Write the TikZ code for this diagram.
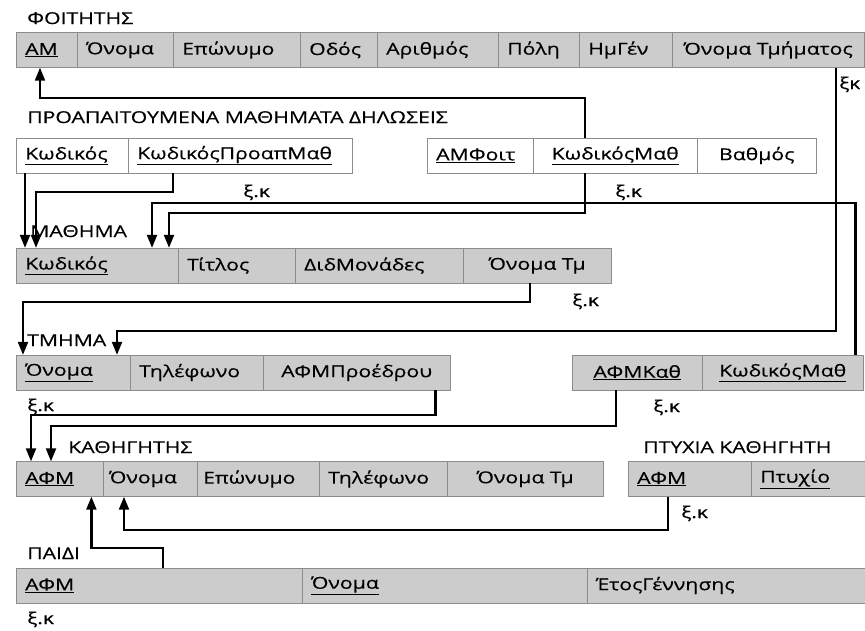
\documentclass[tikz,border=0pt]{standalone}
\usepackage{fontspec}
\setmainfont[FakeStretch=1.3, FakeBold=0.4]{Open Sans}
\usetikzlibrary{arrows.meta}

\definecolor{cellfill}{HTML}{CCCCCC}
\definecolor{cellline}{HTML}{8C8C8C}
\newcommand\keyu[1]{\underline{#1}}

\tikzset{
    cell/.style={draw=cellline, fill=cellfill, anchor=west, minimum height=35pt,
        inner xsep=9pt, inner ysep=0pt, align=left},
    wcell/.style={cell, fill=white},
    rtitle/.style={anchor=base west, inner sep=0pt},
    fklab/.style={anchor=base west, inner sep=0pt},
    fk/.style={line width=2.2pt, -{Triangle[length=13pt,width=10pt]}},
}

\begin{document}
\begin{tikzpicture}[x=1pt, y=-1pt, font=\fontsize{16.3}{19}\selectfont]
    \useasboundingbox (0,0) rectangle (865,630);

    \node[rtitle] (tFoit) at (27,24) {ΦΟΙΤΗΤΗΣ};
    \node[cell, text width=43pt] (fAM) at (16,50) {\keyu{ΑΜ}};
    \node[cell, text width=78pt] (fOnoma) at (77,50) {Όνομα};
    \node[cell, text width=109pt] (fEpon) at (173,50) {Επώνυμο};
    \node[cell, text width=59pt] (fOdos) at (300,50) {Οδός};
    \node[cell, text width=103pt] (fArith) at (377,50) {Αριθμός};
    \node[cell, text width=63pt] (fPoli) at (498,50) {Πόλη};
    \node[cell, text width=75pt] (fHmGen) at (579,50) {ΗμΓέν};
    \node[cell, minimum width=192pt] (fOT) at (672,50) {Όνομα Τμήματος};

    \node[rtitle] (tProap) at (27,123) {ΠΡΟΑΠΑΙΤΟΥΜΕΝΑ ΜΑΘΗΜΑΤΑ ΔΗΛΩΣΕΙΣ};
    \node[wcell, text width=94pt] (pKwd) at (16,155.5) {\keyu{Κωδικός}};
    \node[wcell, text width=206pt] (pProap) at (128,155.5) {\keyu{ΚωδικόςΠροαπΜαθ}};
    \node[wcell, text width=88pt] (dAMF) at (427,155.5) {\keyu{ΑΜΦοιτ}};
    \node[wcell, minimum width=164pt] (dKwd) at (533,155.5) {\keyu{ΚωδικόςΜαθ}};
    \node[wcell, minimum width=119pt] (dBath) at (697,155.5) {Βαθμός};

    \node[rtitle] (tMath) at (30,237) {ΜΑΘΗΜΑ};
    \node[cell, text width=144pt] (mKwd) at (16,265.5) {\keyu{Κωδικός}};
    \node[cell, text width=99pt] (mTitlos) at (178,265.5) {Τίτλος};
    \node[cell, text width=150pt] (mDid) at (295,265.5) {ΔιδΜονάδες};
    \node[cell, minimum width=148pt] (mOT) at (463,265.5) {Όνομα Τμ};

    \node[rtitle] (tTmima) at (27,346) {ΤΜΗΜΑ};
    \node[cell, text width=96pt] (tOnoma) at (16,372.5) {\keyu{Όνομα}};
    \node[cell, text width=115pt] (tTel) at (130,372.5) {Τηλέφωνο};
    \node[cell, minimum width=187pt] (tAFM) at (263,372.5) {ΑΦΜΠροέδρου};

    \node[cell, minimum width=130pt] (kmAFM) at (572,372.5) {\keyu{ΑΦΜΚαθ}};
    \node[cell, minimum width=161pt] (kmKwd) at (702,372.5) {\keyu{ΚωδικόςΜαθ}};

    \node[rtitle] (tKath) at (68,453) {ΚΑΘΗΓΗΤΗΣ};
    \node[cell, text width=69pt] (kAFM) at (16,479) {\keyu{ΑΦΜ}};
    \node[cell, text width=82pt, inner xsep=6pt] (kOnoma) at (103,479) {Όνομα};
    \node[cell, text width=110pt, inner xsep=6pt] (kEpon) at (197,479) {Επώνυμο};
    \node[cell, text width=110pt] (kTel) at (319,479) {Τηλέφωνο};
    \node[cell, minimum width=156pt] (kOT) at (447,479) {Όνομα Τμ};

    \node[rtitle] (tPtyx) at (643,453) {ΠΤΥΧΙΑ ΚΑΘΗΓΗΤΗ};
    \node[cell, text width=105pt] (ptAFM) at (628,479) {\keyu{ΑΦΜ}};
    \node[cell, text width=96pt] (ptPtyx) at (751,479) {\keyu{Πτυχίο}};

    \node[rtitle] (tPaidi) at (27,559) {ΠΑΙΔΙ};
    \node[cell, text width=268pt] (paAFM) at (16,585.5) {\keyu{ΑΦΜ}};
    \node[cell, text width=267pt] (paOnoma) at (302,585.5) {\keyu{Όνομα}};
    \node[cell, text width=260pt] (paEtos) at (587,585.5) {ΈτοςΓέννησης};

    \node[fklab] (lFoit) at (839,89) {ξκ};
    \node[fklab] (lProap) at (243,197) {ξ.κ};
    \node[fklab] (lDil) at (615,197) {ξ.κ};
    \node[fklab] (lMath) at (572,306) {ξ.κ};
    \node[fklab] (lTmima) at (27,411) {ξ.κ};
    \node[fklab] (lKm) at (653,412) {ξ.κ};
    \node[fklab] (lPtyx) at (681,518) {ξ.κ};
    \node[fklab] (lPaidi) at (27,624) {ξ.κ};

    \draw[fk] ([xshift=52pt]dKwd.north west) -- ++(0,-40) -| ([xshift=24pt]fAM.south west);
    \draw[fk] ([xshift=52pt]dKwd.south west) -- ++(0,40) -| ([xshift=153pt]mKwd.north west);
    \draw[fk] ([xshift=-8pt]kmKwd.north east) -- ++(0,-152) -| ([xshift=136pt]mKwd.north west);
    \draw[fk] ([xshift=164pt]fOT.south west) -- ++(0,263) -| ([xshift=101pt]tOnoma.north west);
    \draw[fk] ([xshift=9pt]pKwd.south west) -- ([xshift=9pt]mKwd.north west);
    \draw[fk] ([xshift=45pt]pProap.south west) -- ++(0,19) -| ([xshift=20pt]mKwd.north west);
    \draw[fk] ([xshift=67pt]mOT.south west) -- ++(0,19) -| ([xshift=7pt]tOnoma.north west);
    \draw[fk] ([xshift=-15pt]tAFM.south east) -- ++(0,25) -| ([xshift=15pt]kAFM.north west);
    \draw[fk] ([xshift=44pt]kmAFM.south west) -- ++(0,36) -| ([xshift=35pt]kAFM.north west);
    \draw[fk] ([xshift=40pt]ptAFM.south west) -- ++(0,33) -| ([xshift=21pt]kOnoma.south west);
    \draw[fk] ([xshift=147pt]paAFM.north west) -- ++(0,-20) -| ([xshift=-12pt]kAFM.south east);
\end{tikzpicture}
\end{document}
